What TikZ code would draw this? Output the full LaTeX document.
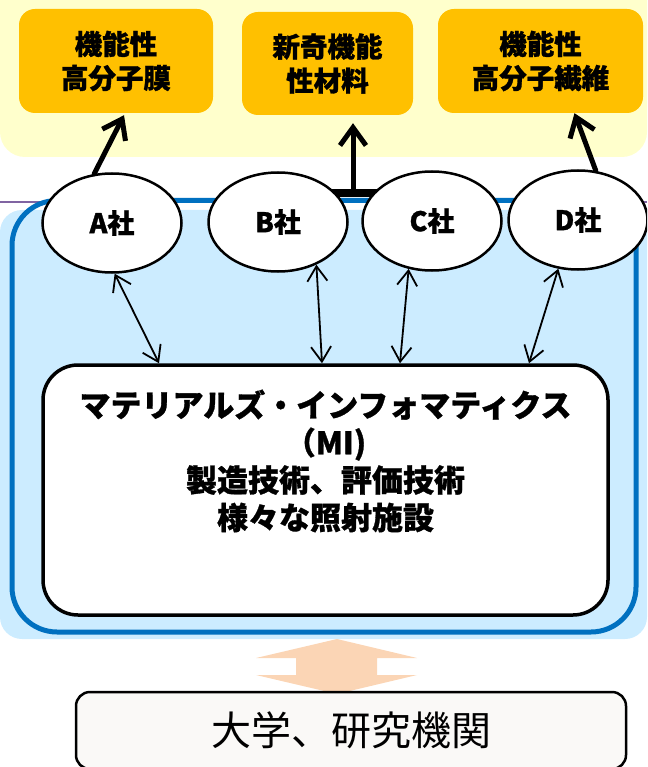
\documentclass[tikz,border=0pt]{standalone}
\usepackage{fontspec}
\newfontfamily\jp{Noto Sans CJK JP}[BoldFeatures={FakeBold=1}]
\usetikzlibrary{shapes.geometric,arrows.meta,calc}
\definecolor{bgyellow}{HTML}{FFFFCC}
\definecolor{boxorange}{HTML}{FFC000}
\definecolor{bglblue}{HTML}{CCECFF}
\definecolor{frameblue}{HTML}{0070C0}
\definecolor{linepurple}{HTML}{8064A2}
\definecolor{peach}{HTML}{FBD5B5}
\definecolor{offwhite}{HTML}{FAF9F7}
\begin{document}
\begin{tikzpicture}[x=1pt,y=-1pt,
 prodbox/.style={draw=none, fill=boxorange, rounded corners=16pt, align=center,
   font=\jp\bfseries\fontsize{27.5}{34}\selectfont, inner sep=0pt},
 company/.style={ellipse, draw, line width=2.5pt, fill=white, minimum width=139pt,
   minimum height=99pt, inner sep=0pt, font=\jp\bfseries\fontsize{27}{32}\selectfont},
 bigarrow/.style={line width=5pt, line cap=round, line join=round,
   -{Straight Barb[length=18pt,width=26pt]}},
 linkarrow/.style={line width=1.8pt,
   {Straight Barb[length=15pt,width=20pt]}-{Straight Barb[length=15pt,width=20pt]}},
]
\useasboundingbox (0,0) rectangle (647,767);
\clip (0,0) rectangle (647,767);
% backgrounds
\fill[bgyellow, rounded corners=25pt] (0,-40) rectangle (647,157);
\fill[bglblue, rounded corners=22pt] (0,210) rectangle (647,639);
\draw[linepurple, line width=1.2pt] (0,202) -- (647,202);
\draw[frameblue, line width=5pt, rounded corners=45pt] (12,200.5) rectangle (636,632);
% product boxes
\node[prodbox, minimum width=194pt, minimum height=104pt] (p1) at (116,61) {機能性\\高分子膜};
\node[prodbox, minimum width=171pt, minimum height=103pt] (p2) at (327.5,63.5) {新奇機能\\性材料};
\node[prodbox, minimum width=205pt, minimum height=104pt] (p3) at (540.5,61) {機能性\\高分子繊維};
% T bar between B and C
\coordinate (barL) at (300,193);
\coordinate (barR) at (400,193);
\coordinate (T) at (353,193);
\draw[line width=8pt] (barL) -- (barR);
\draw[bigarrow] (T) -- ([xshift=25.5pt,yshift=-8pt]p2.south);
% companies
\node[company] (A) at (112,223) {A社};
\node[company] (B) at (278,222) {B社};
\node[company] (C) at (432,221) {C社};
\node[company] (D) at (578,220) {D社};
\draw[bigarrow] (A.110) -- ([xshift=8pt,yshift=-2pt]p1.south);
\draw[bigarrow] (D.70) -- ([xshift=34pt]p3.south);
% MI box
\node[draw, line width=3.5pt, fill=white, rounded corners=35pt, minimum width=565pt,
  minimum height=250pt] (mi) at (325.5,490) {};
\node[font=\jp\bfseries\fontsize{31}{37.5}\selectfont, align=center] (mitext) at (325.5,461)
  {マテリアルズ・インフォマティクス\\（MI)\\製造技術、評価技術\\様々な照射施設};
\draw[linkarrow] (A.-87) -- ([xshift=-166.5pt]mi.north);
\draw[linkarrow] (B.-48) -- ([xshift=-3.5pt]mi.north);
\draw[linkarrow] (C.-116) -- ([xshift=74.5pt]mi.north);
\draw[linkarrow] (D.-112) -- ([xshift=203.5pt]mi.north);
% double arrow
\fill[peach] (337,639) -- (417,658) -- (377,658) -- (377,675) -- (417,675) -- (337,694)
  -- (256,675) -- (296,675) -- (296,658) -- (256,658) -- cycle;
% university box
\node[draw, line width=2.5pt, fill=offwhite, rounded corners=14pt, minimum width=550pt,
  minimum height=77pt, font=\jp\fontsize{40}{48}\selectfont] (uni) at (351,730.5) {大学、研究機関};
\end{tikzpicture}
\end{document}
